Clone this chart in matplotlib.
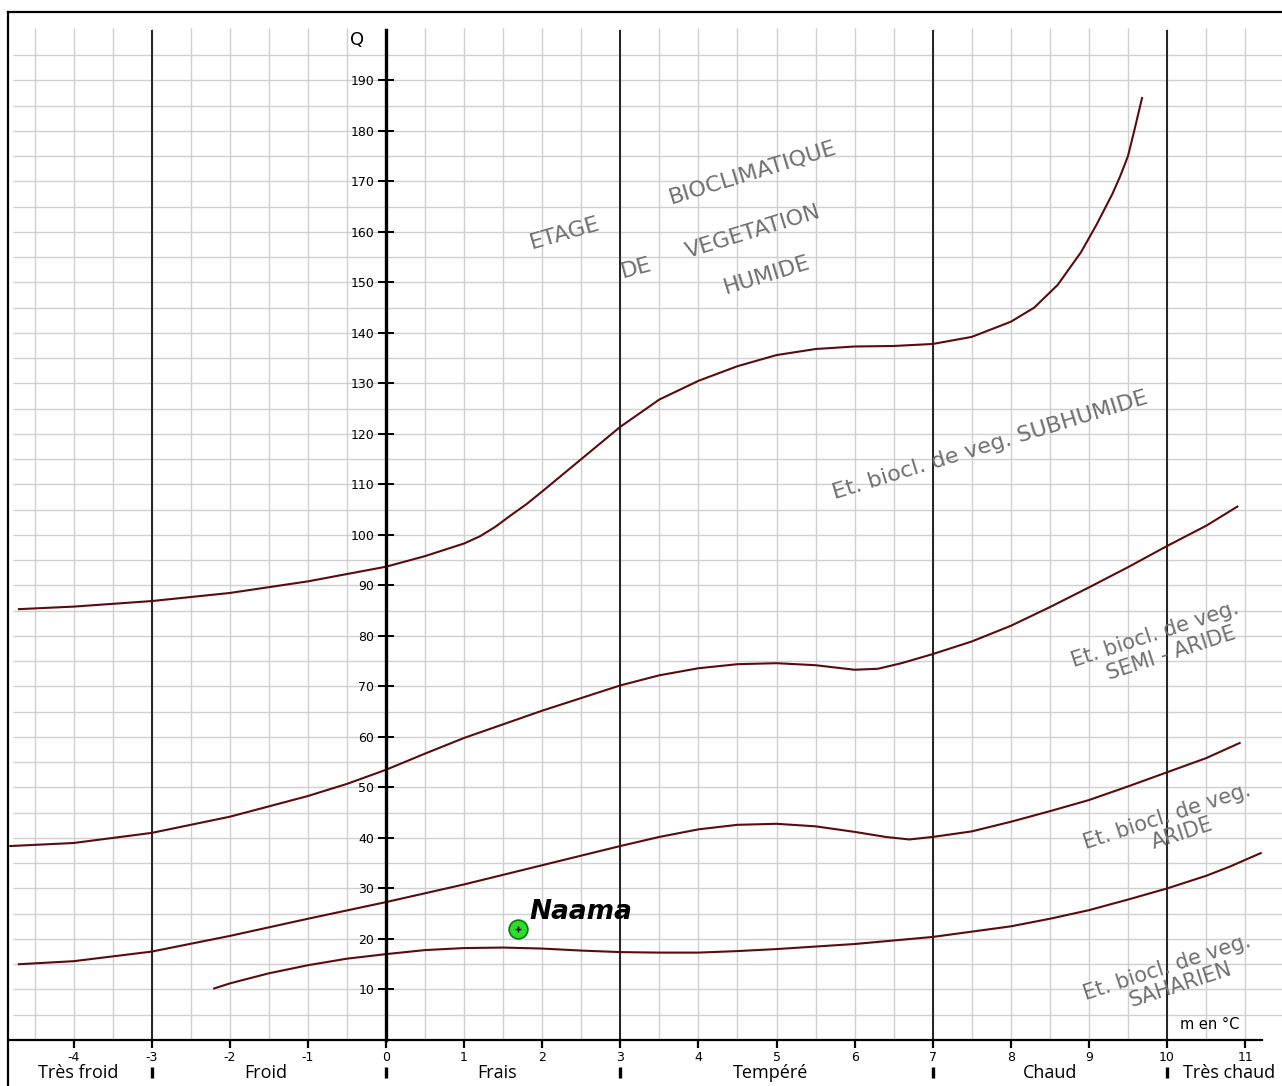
import matplotlib
matplotlib.use("Agg")
import matplotlib.pyplot as plt
from matplotlib.lines import Line2D

plt.rcParams['font.family'] = ['Open Sans', 'DejaVu Sans']

# limit humide / subhumide
m_hum = [-4.7, -4, -3, -2, -1, 0, 0.5, 1, 1.2, 1.4, 1.6, 1.8, 2, 2.5, 3, 3.5, 4, 4.5, 5,
         5.5, 6, 6.5, 7, 7.5, 8, 8.3, 8.6, 8.9, 9.1, 9.3, 9.4, 9.5, 9.58, 9.68]
q_hum = [85.3, 85.8, 86.9, 88.5, 90.8, 93.7, 95.8, 98.3, 99.7, 101.6, 103.9, 106.1, 108.6,
         115, 121.4, 126.8, 130.5, 133.4, 135.6, 136.8, 137.3, 137.4, 137.8, 139.2, 142.2,
         145, 149.5, 156, 161.5, 167.5, 171, 175, 180, 186.5]

# limit subhumide / semi-aride
m_sub = [-4.81, -4, -3, -2, -1, -0.5, 0, 0.5, 1, 2, 3, 3.5, 4, 4.5, 5, 5.5, 6, 6.3, 6.6,
         7, 7.5, 8, 8.5, 9, 9.5, 10, 10.5, 10.9]
q_sub = [38.4, 39.0, 41.0, 44.2, 48.3, 50.7, 53.5, 56.7, 59.8, 65.2, 70.2, 72.2, 73.6,
         74.4, 74.6, 74.2, 73.3, 73.5, 74.6, 76.4, 78.9, 82.0, 85.7, 89.6, 93.6, 97.8,
         101.8, 105.6]

# limit semi-aride / aride
m_semi = [-4.7, -4, -3, -2, -1, 0, 1, 2, 3, 3.5, 4, 4.5, 5, 5.5, 6, 6.4, 6.7, 7, 7.5, 8,
          8.5, 9, 9.5, 10, 10.5, 10.93]
q_semi = [15.0, 15.6, 17.5, 20.6, 24.0, 27.3, 30.8, 34.6, 38.4, 40.2, 41.7, 42.6, 42.8,
          42.3, 41.2, 40.2, 39.7, 40.2, 41.3, 43.2, 45.3, 47.5, 50.2, 53.0, 55.8, 58.8]

# limit aride / saharien
m_ar = [-2.2, -2, -1.5, -1, -0.5, 0, 0.5, 1, 1.5, 2, 2.5, 3, 3.5, 4, 4.5, 5, 6, 7, 8,
        8.5, 9, 9.5, 10, 10.5, 10.8, 11.2]
q_ar = [10.2, 11.2, 13.2, 14.8, 16.1, 17.0, 17.8, 18.2, 18.3, 18.1, 17.7, 17.4, 17.3,
        17.3, 17.6, 18.0, 19.0, 20.4, 22.5, 24.0, 25.7, 27.8, 30.0, 32.5, 34.3, 37.0]

# station
station = "Naama"
station_m = 1.69
station_q = 22.0

x_ticks = list(range(-4, 12))
y_ticks = list(range(10, 200, 10))
major_m = [-3, 3, 7, 10]
zone_names = ["Très froid", "Froid", "Frais", "Tempéré", "Chaud", "Très chaud"]
zone_pos = [-3.94, -1.54, 1.42, 4.92, 8.5, 10.8]
zone_bounds = [-3, 0, 3, 7, 10]

fig = plt.figure(figsize=(12.82, 10.86), dpi=100)
ax = fig.add_axes([0, 0, 1, 1])
ax.set_xlim(-4.942, 11.472)
ax.set_ylim(-9.11, 205.9)

grid_col = "#d0d0d0"
# grid
hq = [q * 5 for q in range(1, 40)]
ax.hlines(hq, -4.77, 11.472, colors=grid_col, lw=1.0, zorder=1)
vm = [-4.5 + 0.5 * i for i in range(32)]
ax.vlines(vm, 0, 200.4, colors=grid_col, lw=1.0, zorder=1)
ax.vlines(major_m, 0, 200, colors="#222222", lw=1.4, zorder=2)

# curves
curve_col = "#5a0c0c"
for mm, qq in [(m_hum, q_hum), (m_sub, q_sub), (m_semi, q_semi), (m_ar, q_ar)]:
    ax.plot(mm, qq, color=curve_col, lw=1.5, zorder=3, solid_joinstyle="round")

# axes
for s in ["top", "right"]:
    ax.spines[s].set_visible(False)
ax.spines["left"].set_position(("data", 0))
ax.spines["bottom"].set_position(("data", 0))
ax.spines["left"].set_bounds(0, 200)
ax.spines["bottom"].set_bounds(-4.81, 11.22)
ax.spines["left"].set_linewidth(2.4)
ax.spines["bottom"].set_linewidth(1.6)
ax.spines["left"].set_zorder(4)
ax.spines["bottom"].set_zorder(4)

ax.set_xticks(x_ticks)
ax.set_xticklabels([str(v) for v in x_ticks], family=["DejaVu Sans"])
ax.set_yticks(y_ticks)
ax.set_yticklabels([str(v) for v in y_ticks], family=["DejaVu Sans"])
ax.tick_params(axis="x", direction="out", length=5.5, width=1.6, pad=2.5, labelsize=9)
ax.tick_params(axis="y", direction="inout", length=11, width=1.4, pad=3, labelsize=9)

# axis names
ax.text(-0.37, 198, "Q", fontsize=13, family=["DejaVu Sans"], ha="center", va="center")
ax.text(10.55, 3, "m en °C", fontsize=10.5, family=["DejaVu Sans"], ha="center", va="center")

# zones below the axis
for name, p in zip(zone_names, zone_pos):
    ax.text(p, -6.6, name, fontsize=13, ha="center", va="center")
ax.vlines(zone_bounds, -7.6, -5.4, colors="black", lw=2.4)

# stage labels
txt_col = "#707070"
lab = dict(color=txt_col, ha="center", va="center", family=["DejaVu Sans"])
ax.text(2.29, 159.8, "ETAGE", fontsize=16, rotation=16, **lab)
ax.text(4.70, 171.7, "BIOCLIMATIQUE", fontsize=16, rotation=17, **lab)
ax.text(3.21, 152.9, "DE", fontsize=16, rotation=15, **lab)
ax.text(4.70, 160.0, "VEGETATION", fontsize=16, rotation=17, **lab)
ax.text(4.88, 151.5, "HUMIDE", fontsize=16, rotation=17, **lab)

ax.text(7.73, 117.8, "Et. biocl. de veg. SUBHUMIDE", fontsize=16, rotation=17, **lab)
ax.text(9.85, 80.2, "Et. biocl. de veg.", fontsize=15, rotation=18, **lab)
ax.text(10.06, 76.6, "SEMI - ARIDE", fontsize=15, rotation=18, **lab)
ax.text(10.0, 44.2, "Et. biocl. de veg.", fontsize=15, rotation=18, **lab)
ax.text(10.19, 40.9, "ARIDE", fontsize=15, rotation=18, **lab)
ax.text(10.0, 14.3, "Et. biocl. de veg.", fontsize=15, rotation=18, **lab)
ax.text(10.17, 10.9, "SAHARIEN", fontsize=15, rotation=18, **lab)

# station point
ax.plot(station_m, station_q, "o", ms=13.5, mfc="#2ddc2d", mec="#0b7a0b", mew=1.2, zorder=5)
ax.plot(station_m, station_q, "+", ms=4, color="black", mew=1, zorder=6)
ax.text(1.84, 25.4, station, fontsize=19, fontweight="bold", fontstyle="italic",
        family=["DejaVu Sans"], ha="left", va="center", zorder=6)

# outer frame
fig.add_artist(Line2D([8 / 1282, 8 / 1282], [0, 1 - 12 / 1086], transform=fig.transFigure,
                      color="black", lw=1.6))
fig.add_artist(Line2D([8 / 1282, 1], [1 - 12 / 1086, 1 - 12 / 1086], transform=fig.transFigure,
                      color="black", lw=1.6))

fig.savefig("out.png", dpi=100, facecolor="white")
